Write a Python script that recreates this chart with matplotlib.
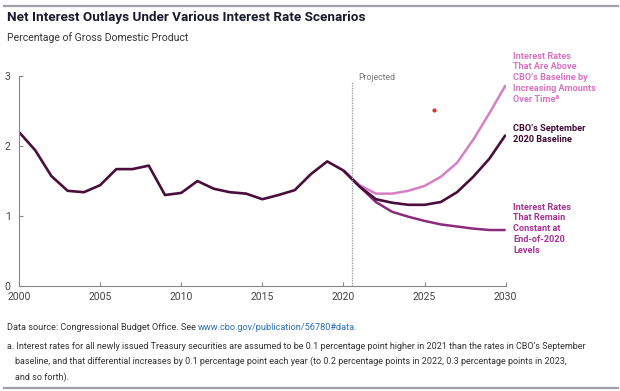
import matplotlib.pyplot as plt
import matplotlib.lines as mlines

# historical net interest outlays, % of GDP
hist_years = list(range(2000, 2021))
hist_values = [2.20, 1.94, 1.57, 1.36, 1.34, 1.44, 1.67, 1.67, 1.72, 1.30, 1.33,
               1.50, 1.39, 1.34, 1.32, 1.24, 1.30, 1.37, 1.60, 1.78, 1.65]

# projections
proj_years = list(range(2020, 2031))
baseline = [1.65, 1.42, 1.24, 1.19, 1.16, 1.16, 1.20, 1.34, 1.56, 1.82, 2.16]
above_baseline = [1.65, 1.44, 1.32, 1.32, 1.36, 1.43, 1.56, 1.76, 2.09, 2.47, 2.87]
constant_rates = [1.65, 1.42, 1.20, 1.06, 0.99, 0.93, 0.88, 0.85, 0.82, 0.80, 0.80]

x_ticks = [2000, 2005, 2010, 2015, 2020, 2025, 2030]
y_ticks = [0, 1, 2, 3]

dark = '#4a0e3c'
pink = '#d67fc5'
plum = '#8c2a7c'

plt.rcParams['font.family'] = ['Roboto', 'DejaVu Sans']

fig = plt.figure(figsize=(6.2, 3.91), dpi=100)
ax = fig.add_axes([0.0306, 0.2685, 0.785, 0.5371])

ax.plot(proj_years, constant_rates, color=plum, linewidth=1.8, solid_capstyle='butt')
ax.plot(proj_years, above_baseline, color=pink, linewidth=1.8, solid_capstyle='butt')
ax.plot(proj_years, baseline, color=dark, linewidth=1.9, solid_capstyle='butt')
ax.plot(hist_years, hist_values, color=dark, linewidth=1.9, solid_capstyle='butt')

# projection divider
ax.axvline(2020.5, ymin=0, ymax=0.97, color='#999999', linestyle=(0, (1, 1)), linewidth=0.9)
ax.text(2020.9, 2.98, 'Projected', fontsize=6.2, color='#777777', va='center')

# stray marker visible in the reference
ax.plot([2025.57], [2.51], 'o', color='#e8302a', markersize=2)

ax.set_xlim(2000, 2030)
ax.set_ylim(0, 3)
ax.set_xticks(x_ticks)
ax.set_yticks(y_ticks)
for s in ['top', 'right']:
    ax.spines[s].set_visible(False)
for s in ['left', 'bottom']:
    ax.spines[s].set_color('#888888')
    ax.spines[s].set_linewidth(0.8)
ax.tick_params(axis='x', direction='in', length=3, color='#888888', labelsize=7.5,
               labelcolor='#444444', pad=4)
ax.tick_params(axis='y', direction='in', length=3, color='#888888', labelsize=7.5,
               labelcolor='#444444', pad=6)

# line labels
lab = dict(fontsize=6.6, fontweight='bold', va='top', ha='left', linespacing=1.25, clip_on=False)
ax.text(2030.45, 3.35, 'Interest Rates\nThat Are Above\nCBO\u2019s Baseline by\nIncreasing Amounts\nOver Time\u1d43',
        color='#d674c2', **lab)
ax.text(2030.45, 2.31, 'CBO\u2019s September\n2020 Baseline', color='#3d0a33', **lab)
ax.text(2030.45, 1.19, 'Interest Rates\nThat Remain\nConstant at\nEnd-of-2020\nLevels',
        color='#a43593', **lab)

# title, subtitle, notes
fig.add_artist(mlines.Line2D([0.007, 0.996], [0.985, 0.985], color='#a0a0a8', linewidth=1.6))
fig.add_artist(mlines.Line2D([0.007, 0.996], [0.008, 0.008], color='#a0a0a8', linewidth=1.6))
fig.text(0.011, 0.955, 'Net Interest Outlays Under Various Interest Rate Scenarios',
         fontsize=9.7, fontweight='bold', color='#1a1a2e', va='center')
fig.text(0.011, 0.905, 'Percentage of Gross Domestic Product', fontsize=7.5,
         color='#333333', va='center')

src_y = 0.156
src = fig.text(0.011, src_y, 'Data source: Congressional Budget Office. See ', fontsize=6.6,
               color='#333333', va='baseline')
url = fig.text(0, src_y, 'www.cbo.gov/publication/56780#data.', fontsize=6.6, color='#2a6fb0',
               va='baseline')
fig.canvas.draw()
bb = src.get_window_extent(fig.canvas.get_renderer())
url.set_x(bb.x1 / fig.bbox.width)

note = dict(fontsize=6.45, color='#333333', va='center')
fig.text(0.011, 0.115, 'a. Interest rates for all newly issued Treasury securities are assumed to be 0.1 '
         'percentage point higher in 2021 than the rates in CBO\u2019s September', **note)
fig.text(0.024, 0.075, 'baseline, and that differential increases by 0.1 percentage point each year '
         '(to 0.2 percentage points in 2022, 0.3 percentage points in 2023,', **note)
fig.text(0.024, 0.035, 'and so forth).', **note)

fig.savefig('out.png', dpi=100, facecolor='white')
